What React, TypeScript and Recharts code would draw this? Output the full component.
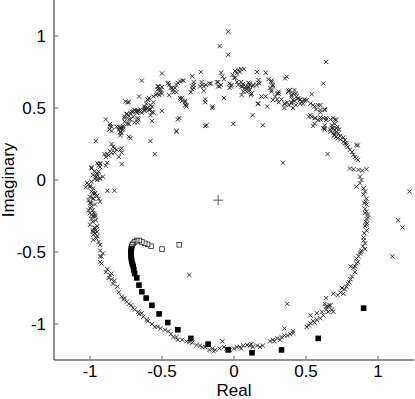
import React from 'react';
import { ScatterChart, Scatter, XAxis, YAxis } from 'recharts';

const axisTicks = [-1, -0.5, 0, 0.5, 1];

// pole estimates (real, imaginary) – marked with ×
const crossPts: [number, number][] = [
  [-0.04,1.03],[-0.10,0.93],[-0.04,0.87],[0.64,0.82],[0.62,0.67],[-0.64,0.69],[-0.50,0.74],[-0.23,0.75],[-0.16,0.67],[-0.09,0.745],[-0.09,0.66],[-0.02,0.65],[0.01,0.71],[0.03,0.765],[0.07,0.77],[0.05,0.77],[0.16,0.75],[0.22,0.745],[0.13,0.65],[0.11,0.66],[0.12,0.60],[0.17,0.675],[0.19,0.58],[0.22,0.58],[0.26,0.625],[0.27,0.65],[0.26,0.69],[0.24,0.70],[0.13,0.45],[0.165,0.53],[0.23,0.51],[0.20,0.38],[0.31,0.60],[0.33,0.56],[0.30,0.56],[0.37,0.54],[0.35,0.53],[0.35,0.50],[0.38,0.62],[0.40,0.58],[0.41,0.60],[0.44,0.565],[0.46,0.56],[0.49,0.56],[0.54,0.595],[0.42,0.55],[0.43,0.52],[0.46,0.53],[0.40,0.54],[0.38,0.52],[0.41,0.50],[0.53,0.45],[0.54,0.44],[0.56,0.39],[0.57,0.49],[0.60,0.52],[0.63,0.49],[0.565,0.43],[0.60,0.47],[0.60,0.42],[0.62,0.43],[0.64,0.43],[0.63,0.38],[0.63,0.36],[0.67,0.42],[0.70,0.42],[0.70,0.39],[0.68,0.36],[0.71,0.36],[0.73,0.35],
  [-0.89,0.42],[-0.86,0.39],[-0.85,0.37],[-0.80,0.37],[-0.79,0.36],[-0.78,0.36],[-0.77,0.365],[-0.755,0.545],[-0.73,0.54],[-0.76,0.44],[-0.745,0.455],[-0.72,0.465],[-0.70,0.475],[-0.68,0.48],[-0.67,0.48],[-0.65,0.49],[-0.62,0.49],[-0.61,0.495],[-0.66,0.58],[-0.67,0.43],[-0.70,0.44],[-0.69,0.40],[-0.72,0.42],[-0.73,0.39],[-0.60,0.50],[-0.58,0.49],[-0.57,0.51],[-0.60,0.56],[-0.59,0.57],[-0.56,0.54],[-0.57,0.47],[-0.54,0.59],[-0.535,0.60],[-0.52,0.59],[-0.53,0.65],[-0.52,0.63],[-0.51,0.625],[-0.50,0.645],[-0.50,0.48],[-0.46,0.67],[-0.45,0.66],[-0.43,0.64],[-0.425,0.625],[-0.45,0.59],[-0.41,0.64],[-0.40,0.66],[-0.375,0.685],[-0.36,0.69],[-0.35,0.69],[-0.37,0.56],[-0.36,0.57],[-0.34,0.55],[-0.34,0.52],[-0.33,0.51],[-0.38,0.43],[-0.29,0.72],[-0.28,0.68],[-0.28,0.64],[-0.235,0.65],[-0.22,0.66],[-0.21,0.65],[-0.21,0.62],[-0.20,0.56],[-0.20,0.54],[-0.19,0.38],[-0.15,0.51],[-0.11,0.68],[-0.10,0.65],[-0.07,0.57],[-0.005,0.39],[0.08,0.65],[0.09,0.63],[0.10,0.64],[0.05,0.68],[0.06,0.665],[0.06,0.65],[-0.03,0.67],[-0.01,0.73],[0.00,0.71],
  [-0.08,0.72],[-0.07,0.70],[-0.39,0.675],[-0.456,0.675],[-0.44,0.64],[-0.42,0.61],[-0.40,0.61],[-0.525,0.65],[-0.53,0.63],[-0.51,0.61],[-0.50,0.60],[-0.56,0.58],[-0.29,0.65],[-0.28,0.66],[-0.29,0.63],[-0.30,0.61],[-0.225,0.68],[-0.195,0.66],[-0.17,0.67],[-0.12,0.68],[-0.11,0.65],[-0.375,0.57],[-0.36,0.55],[-0.34,0.54],[-0.33,0.52],[-0.15,0.50],[-0.39,0.42],[-0.40,0.34],[-0.20,0.375],[-0.58,0.27],[-0.74,0.54],[-0.595,0.555],[-0.61,0.53],[-0.58,0.52],[-0.62,0.50],[-0.59,0.486],[-0.56,0.47],[-0.58,0.45],[-0.71,0.475],[-0.69,0.486],[-0.665,0.48],[-0.65,0.475],[-0.675,0.467],[-0.64,0.467],[-0.62,0.48],[-0.62,0.51],[-0.745,0.46],[-0.73,0.445],[-0.76,0.43],[-0.73,0.42],[-0.74,0.39],[-0.76,0.405],[-0.77,0.375],[-0.665,0.42],[-0.67,0.40],[-0.57,0.41],[-0.815,0.37],[-0.79,0.365],[-0.80,0.35],[-0.79,0.335],[-0.78,0.325],[-0.77,0.35],[-0.79,0.31],[-0.86,0.375],[-0.865,0.35],[-0.72,0.29],[-0.96,0.27],[-0.85,0.25],[-0.84,0.23],[-0.83,0.22],[-0.815,0.21],[-0.78,0.22],
  [-0.73,0.30],[-0.79,0.33],[-0.85,0.34],[-0.55,0.18],[-0.40,0.335],[-0.86,0.20],[-0.83,0.19],[-0.85,0.19],[-0.88,0.18],[-0.87,0.17],[-0.79,0.21],[-0.78,0.19],[-0.90,0.18],[-0.89,0.16],[-0.80,0.16],[-0.78,0.11],[-0.93,0.11],[-0.94,0.10],[-0.93,0.09],[-0.88,0.12],[-0.89,0.10],[-0.99,0.08],[-0.97,0.06],[-0.95,0.05],[-0.95,0.04],[-0.96,0.02],[-0.93,0.01],[-0.95,0.00],[-1.02,-0.02],[-1.01,-0.03],[-1.00,-0.05],[-1.03,-0.05],[-0.88,-0.075],[-0.83,-0.075],[-0.99,-0.08],[-0.98,-0.09],[-0.97,-0.10],[-0.95,-0.11],[-0.98,-0.13],[-0.94,-0.13],[-0.93,-0.15],[-1.01,-0.14],[-1.00,-0.16],[-0.99,-0.185],[-1.01,-0.21],[-0.98,-0.21],[-1.0,-0.23],[-0.965,-0.245],[-0.99,-0.27],[-0.98,-0.29],[-0.95,-0.32],[-0.98,-0.35],[-0.965,-0.37],[-0.95,-0.39],[-0.94,-0.43],[-0.93,-0.45],[-0.93,-0.49],[-0.91,-0.51],[-0.92,-0.53],[-0.97,-0.33],[-0.96,-0.35],[-0.95,-0.36],[-0.97,-0.23],[-0.98,-0.25],[-0.96,-0.28],
  [-0.99,0.088],[-0.95,0.116],[-0.93,0.116],[-0.98,0.035],[-0.955,0.023],[-0.94,0.058],[-0.93,0.012],[-0.965,0.005],[-0.99,-0.012],[-0.91,0.023],[-1.0,-0.04],[-0.977,-0.058],[-0.965,-0.09],[-1.0,-0.116],[-0.977,-0.127],[-0.99,-0.16],[-0.965,-0.17],[-1.0,-0.197],[-0.99,-0.243],[-0.965,-0.255],[-1.0,-0.31],[-0.965,-0.335],[-0.98,-0.36],[-0.977,-0.38],[-0.955,-0.405],[-0.977,-0.416],[-0.93,-0.53],
  [0.63,0.35],[0.67,0.335],[0.69,0.325],[0.70,0.31],[0.71,0.30],[0.72,0.29],[0.74,0.28],[0.76,0.265],[0.77,0.255],[0.78,0.24],[0.805,0.21],[0.82,0.195],[0.83,0.175],[0.84,0.16],[0.85,0.15],[0.86,0.14],[0.65,0.18],[0.86,0.24],[0.34,0.12],[0.805,0.08],[0.83,0.075],[0.865,0.07],[0.89,0.065],[0.92,0.075],[0.875,0.023],[0.885,0.0],[0.875,-0.023],[0.85,-0.046],[0.90,-0.058],[0.91,-0.08],[0.90,-0.10],[0.92,-0.13],[0.915,-0.15],[0.92,-0.17],[0.91,-0.20],[0.92,-0.22],[0.93,-0.24],[0.92,-0.27],[0.915,-0.29],[0.92,-0.31],[0.91,-0.32],[0.92,-0.35],[0.905,-0.37],[0.91,-0.44],[0.895,-0.46],[0.885,-0.49],[0.875,-0.51],[0.865,-0.53],[0.85,-0.545],[1.22,-0.08],[1.14,-0.28],[1.17,-0.33],[1.10,-0.53],[0.91,-0.48],[0.93,-0.26],[0.925,-0.30],[0.91,-0.23],[0.905,-0.16],[0.90,-0.40],[0.90,-0.42],[0.88,-0.50],
  [0.007,0.757],[0.02,0.74],[0.04,0.75],[-0.016,0.66],[-0.03,0.64],[0.02,0.68],[0.03,0.66],[0.053,0.648],[0.076,0.637],[0.10,0.648],[0.11,0.625],[0.088,0.613],[0.123,0.60],[0.11,0.67],[0.134,0.66],[0.10,0.675],[0.065,0.613],[0.053,0.59],[0.116,0.59],[0.17,0.694],[0.176,0.67],[0.157,0.66],[0.26,0.68],[0.27,0.66],[0.25,0.64],[0.26,0.613],[0.285,0.58],[0.27,0.555],[0.31,0.54],[0.30,0.60],[0.31,0.613],[0.17,0.53],[0.354,0.706],[0.366,0.717],[0.354,0.53],[0.377,0.613],[0.39,0.625],[0.42,0.625],[0.40,0.59],[0.43,0.60],[0.435,0.58],[0.41,0.555],[0.447,0.567],[0.458,0.555],[0.47,0.544],[0.48,0.53],[0.49,0.55],[0.505,0.555],[0.40,0.53],[0.53,0.53],[0.55,0.52],[0.56,0.51],[0.585,0.52],[0.60,0.486],[0.63,0.486],[0.52,0.44],[0.56,0.43],[0.585,0.417],[0.60,0.435],[0.64,0.417],[0.69,0.43],[0.71,0.417],[0.55,0.375],[0.62,0.36],[0.68,0.38],[0.69,0.36],[0.70,0.347],[0.71,0.335],[0.725,0.324],[0.694,0.3125],[0.736,0.305],[0.76,0.296],[0.77,0.278],[0.78,0.255],[0.79,0.23],[0.85,0.243],[0.72,0.37],[0.667,0.35],
  [-0.31,-0.66],[0.37,-0.86],[-0.93,-0.57],[-0.92,-0.58],[-0.89,-0.64],[-0.86,-0.66],[-0.85,-0.65],[-0.87,-0.68],[-0.85,-0.69],[-0.84,-0.72],[-0.81,-0.74],[-0.80,-0.78],[-0.78,-0.81],[-0.77,-0.83],[-0.745,-0.845],[-0.715,-0.87],[-0.69,-0.90],[-0.665,-0.915],[-0.64,-0.925],[-0.63,-0.95],[-0.605,-0.97],[-0.57,-1.0],[-0.55,-1.02],[-0.51,-1.03],[-0.48,-1.04],[-0.455,-1.05],[-0.42,-1.09],[-0.39,-1.11],[-0.36,-1.11],[-0.33,-1.12],[-0.29,-1.13],[-0.26,-1.146],[-0.236,-1.15],[-0.20,-1.16],[-0.17,-1.18],[-0.13,-1.18],[-0.10,-1.17],[-0.08,-1.12],[-0.07,-1.16],[-0.05,-1.17],[-0.03,-1.18],[0.0,-1.17],[0.02,-1.16],[0.04,-1.16],[0.065,-1.15],[0.09,-1.146],[0.11,-1.15],[0.13,-1.16],[0.16,-1.15],[0.18,-1.16],[0.25,-1.12],[0.27,-1.11],[0.30,-1.10],[0.33,-1.09],[0.35,-1.08],[0.37,-1.08],[0.41,-1.065],[0.35,-1.03],[0.41,-1.05],[0.505,-1.02],[0.53,-0.995],[0.55,-0.98],[0.575,-0.97],[0.60,-0.96],[0.53,-0.94],[0.575,-0.925],[0.61,-0.915],[0.64,-0.90],[0.655,-0.88],[0.67,-0.87],[0.68,-0.90],[0.63,-0.86],[0.64,-0.82],[0.69,-0.79],[0.74,-0.78],[0.75,-0.75],[0.76,-0.79],[0.78,-0.74],[0.79,-0.72],[0.81,-0.69],[0.82,-0.67],[0.81,-0.60],[0.83,-0.61],[0.85,-0.58],[0.86,-0.57],[0.64,-0.88],[0.655,-0.915],[0.69,-0.915],[0.62,-0.94],
  [-0.88,-0.62],[-0.83,-0.70],[-0.76,-0.82],[-0.73,-0.86],[-0.70,-0.89],[-0.66,-0.93],[-0.60,-0.98],[-0.53,-1.02],[-0.44,-1.07],[-0.40,-1.09],[-0.31,-1.125],[-0.22,-1.16],[-0.15,-1.17],[-0.14,-1.19],[0.05,-1.17],[0.12,-1.14],[0.20,-1.15],[0.28,-1.12],[0.32,-1.11],[0.39,-1.07],[0.52,-1.01],[0.56,-0.99],[0.66,-0.87],[0.72,-0.80],[0.77,-0.76],[0.80,-0.71],[0.84,-0.64],[0.84,-0.60],
];

// open squares
const openSqPts: [number, number][] = [
  [-0.38,-0.45],[-0.50,-0.48],[-0.576,-0.46],[-0.60,-0.447],[-0.62,-0.44],[-0.64,-0.43],[-0.657,-0.42],[-0.676,-0.42],[-0.69,-0.43],[-0.70,-0.44],[-0.706,-0.45],[-0.71,-0.462],
];

// filled squares
const filledSqPts: [number, number][] = [
  [-0.713,-0.475],[-0.715,-0.49],[-0.715,-0.505],[-0.715,-0.52],[-0.714,-0.535],[-0.712,-0.55],[-0.71,-0.567],[-0.705,-0.585],[-0.70,-0.60],[-0.695,-0.625],[-0.69,-0.65],[-0.675,-0.68],[-0.66,-0.73],[-0.64,-0.776],[-0.61,-0.82],[-0.57,-0.87],[-0.52,-0.93],[-0.46,-0.99],[-0.39,-1.04],[-0.30,-1.10],[-0.18,-1.14],[-0.04,-1.18],[0.125,-1.20],[0.33,-1.18],[0.585,-1.10],[0.90,-0.89],
];

const centerPts: [number, number][] = [[-0.11, -0.14]];

const toData = (pts: [number, number][]) => pts.map(([x, y]) => ({ x, y }));

const CrossShape = (p: any) => {
  const { cx, cy } = p;
  const h = 2.1;
  return <path d={`M${cx - h},${cy - h}L${cx + h},${cy + h}M${cx - h},${cy + h}L${cx + h},${cy - h}`} stroke="#222" strokeWidth={0.9} fill="none" />;
};
const OpenSquare = (p: any) => {
  const { cx, cy } = p;
  return <rect x={cx - 2.3} y={cy - 2.3} width={4.6} height={4.6} fill="#fff" stroke="#222" strokeWidth={0.8} />;
};
const FilledSquare = (p: any) => {
  const { cx, cy } = p;
  return <rect x={cx - 2.8} y={cy - 2.8} width={5.6} height={5.6} fill="#000" stroke="none" />;
};
const PlusShape = (p: any) => {
  const { cx, cy } = p;
  const h = 5;
  return <path d={`M${cx - h},${cy}L${cx + h},${cy}M${cx},${cy - h}L${cx},${cy + h}`} stroke="#444" strokeWidth={0.9} fill="none" />;
};

const font = { fill: '#000', fontSize: 17, fontFamily: 'Liberation Sans, Arial, sans-serif' };
const Empty = () => <g />;

export default function App() {
  return (
    <div style={{ position: 'absolute', left: 0, top: 0, background: '#fff' }}>
      <ScatterChart width={415} height={399} margin={{ top: 0, right: 1, bottom: 0, left: 0 }}>
        <XAxis xAxisId="b" type="number" dataKey="x" domain={[-1.25, 1.25]} allowDataOverflow ticks={axisTicks}
          orientation="bottom" height={39} tickSize={-4} tickMargin={9}
          axisLine={{ stroke: '#222' }} tickLine={{ stroke: '#666' }} tick={font}
          label={{ value: 'Real', position: 'insideBottom', offset: 3, style: font }} />
        <XAxis xAxisId="t" type="number" domain={[-1.25, 1.25]} allowDataOverflow ticks={axisTicks}
          orientation="top" height={0} tickSize={-4} axisLine={{ stroke: '#222' }} tickLine={{ stroke: '#666' }} tick={Empty} />
        <YAxis yAxisId="l" type="number" dataKey="y" domain={[-1.25, 1.25]} allowDataOverflow ticks={axisTicks}
          orientation="left" width={54} tickSize={-4} tickMargin={12}
          axisLine={{ stroke: '#222' }} tickLine={{ stroke: '#666' }} tick={font}
          label={{ value: 'Imaginary', angle: -90, position: 'insideLeft', offset: 8, style: { ...font, textAnchor: 'middle' } }} />
        <YAxis yAxisId="r" type="number" domain={[-1.25, 1.25]} allowDataOverflow ticks={axisTicks}
          orientation="right" width={0} tickSize={-4} axisLine={{ stroke: '#222' }} tickLine={{ stroke: '#666' }} tick={Empty} />
        <Scatter xAxisId="b" yAxisId="l" data={toData(crossPts)} shape={CrossShape} isAnimationActive={false} />
        <Scatter xAxisId="b" yAxisId="l" data={toData(openSqPts)} shape={OpenSquare} isAnimationActive={false} />
        <Scatter xAxisId="b" yAxisId="l" data={toData(filledSqPts)} shape={FilledSquare} isAnimationActive={false} />
        <Scatter xAxisId="b" yAxisId="l" data={toData(centerPts)} shape={PlusShape} isAnimationActive={false} />
      </ScatterChart>
    </div>
  );
}
